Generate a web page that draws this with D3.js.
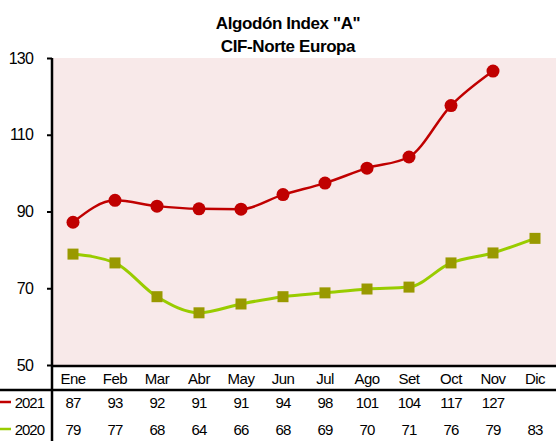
<!DOCTYPE html>
<html>
<head>
<meta charset="utf-8">
<script src="https://cdn.jsdelivr.net/npm/d3@7"></script>
<style>
  body { margin: 0; background: #fff; }
  svg text { font-family: "Liberation Sans Narrow", "Liberation Sans", Arial, sans-serif; }
</style>
</head>
<body>
<div id="chart"></div>
<script>
// meses
var months = ["Ene", "Feb", "Mar", "Abr", "May", "Jun", "Jul", "Ago", "Set", "Oct", "Nov", "Dic"];
// valores graficados
var values2021 = [87.2, 92.9, 91.4, 90.7, 90.6, 94.4, 97.4, 101.3, 104.2, 117.6, 126.6, null];
var values2020 = [78.9, 76.6, 67.8, 63.6, 65.9, 67.8, 68.8, 69.8, 70.3, 76.6, 79.2, 83.0];
// etiquetas de la tabla
var table2021 = ["87", "93", "92", "91", "91", "94", "98", "101", "104", "117", "127", ""];
var table2020 = ["79", "77", "68", "64", "66", "68", "69", "70", "71", "76", "79", "83"];
var yTicks = [50, 70, 90, 110, 130];

var W = 556, H = 441;
var mLeft = 52, mRight = 556, mTop = 58, mBottom = 365;

var svg = d3.select("#chart").append("svg")
    .attr("width", W).attr("height", H);

// titulo
svg.append("text").attr("x", 288).attr("y", 29)
    .attr("text-anchor", "middle").attr("font-size", 17).attr("font-weight", "bold")
    .style("font-family", "'Liberation Sans', Arial, sans-serif")
    .attr("letter-spacing", -0.4)
    .text('Algodón Index "A"');
svg.append("text").attr("x", 288).attr("y", 52)
    .attr("text-anchor", "middle").attr("font-size", 17).attr("font-weight", "bold")
    .style("font-family", "'Liberation Sans', Arial, sans-serif")
    .attr("letter-spacing", -0.4)
    .text("CIF-Norte Europa");

var x = d3.scaleBand().domain(months).range([mLeft, mRight]);
var y = d3.scaleLinear().domain([50, 130]).range([mBottom, mTop]);

// fondo
svg.append("rect")
    .attr("x", mLeft).attr("y", mTop)
    .attr("width", mRight - mLeft).attr("height", mBottom - mTop)
    .attr("fill", "#f8e9e9");

// eje y
var yAxis = svg.append("g")
    .attr("transform", "translate(" + mLeft + ",0)")
    .call(d3.axisLeft(y).tickValues(yTicks).tickSize(5).tickPadding(14));
yAxis.select(".domain").remove();
yAxis.selectAll("line").attr("stroke", "#000").attr("stroke-width", 2);
yAxis.selectAll("text").attr("font-size", 16).attr("fill", "#000")
    .style("font-family", "'Liberation Sans', Arial, sans-serif")
    .attr("letter-spacing", -0.8);

// lineas de ejes / tabla
svg.append("line").attr("x1", mLeft).attr("x2", mLeft).attr("y1", mTop).attr("y2", H)
    .attr("stroke", "#000").attr("stroke-width", 2.5);
svg.append("line").attr("x1", mLeft).attr("x2", mRight).attr("y1", mBottom + 1).attr("y2", mBottom + 1)
    .attr("stroke", "#000").attr("stroke-width", 2.5);
svg.append("line").attr("x1", 0).attr("x2", mRight).attr("y1", 390).attr("y2", 390)
    .attr("stroke", "#000").attr("stroke-width", 2.5);

var cx = function(m) { return x(m) + x.bandwidth() / 2; };

// lineas
var line = d3.line()
    .defined(function(d) { return d.v != null; })
    .x(function(d) { return cx(d.m); })
    .y(function(d) { return y(d.v); })
    .curve(d3.curveMonotoneX);

var d2020 = months.map(function(m, i) { return { m: m, v: values2020[i] }; });
var d2021 = months.map(function(m, i) { return { m: m, v: values2021[i] }; });

svg.append("path").datum(d2020)
    .attr("fill", "none").attr("stroke", "#99cc00").attr("stroke-width", 3)
    .attr("d", line);
svg.selectAll(".sq").data(d2020).enter().append("rect")
    .attr("x", function(d) { return cx(d.m) - 5.5; })
    .attr("y", function(d) { return y(d.v) - 5.5; })
    .attr("width", 11).attr("height", 11)
    .attr("fill", "#999900");

svg.append("path").datum(d2021)
    .attr("fill", "none").attr("stroke", "#c00000").attr("stroke-width", 2.5)
    .attr("d", line);
svg.selectAll(".dot").data(d2021.filter(function(d) { return d.v != null; })).enter().append("circle")
    .attr("cx", function(d) { return cx(d.m); })
    .attr("cy", function(d) { return y(d.v); })
    .attr("r", 6.5)
    .attr("fill", "#c00000");

// etiquetas de meses
svg.selectAll(".mes").data(months).enter().append("text")
    .attr("x", function(d) { return cx(d); }).attr("y", 384)
    .attr("text-anchor", "middle").attr("font-size", 15).attr("fill", "#000")
    .attr("letter-spacing", -0.5)
    .text(function(d) { return d; });

// tabla de datos
var rows = [
    { name: "2021", color: "#c00000", vals: table2021, y: 408 },
    { name: "2020", color: "#99cc00", vals: table2020, y: 435 }
];
rows.forEach(function(r) {
    svg.append("line").attr("x1", 0).attr("x2", 11).attr("y1", r.y - 6).attr("y2", r.y - 6)
        .attr("stroke", r.color).attr("stroke-width", 2.5);
    svg.append("text").attr("x", 44).attr("y", r.y)
        .attr("text-anchor", "end").attr("font-size", 15).attr("fill", "#000")
        .attr("letter-spacing", -1)
        .text(r.name);
    svg.selectAll(null).data(r.vals).enter().append("text")
        .attr("x", function(d, i) { return cx(months[i]); }).attr("y", r.y)
        .attr("text-anchor", "middle").attr("font-size", 15).attr("fill", "#000")
        .attr("letter-spacing", -0.8)
        .text(function(d) { return d; });
});
</script>
</body>
</html>
